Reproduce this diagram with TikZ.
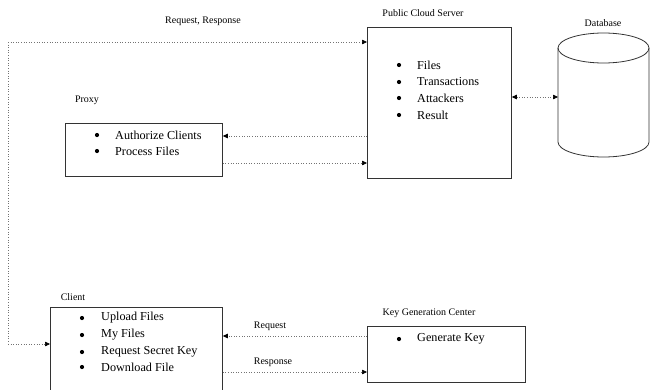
\documentclass[tikz,border=0pt]{standalone}
\usepackage{fontspec}
\setmainfont{Liberation Serif}
\usetikzlibrary{arrows.meta}
\begin{document}
\begin{tikzpicture}[x=1pt,y=-1pt,
  box/.style={draw=black!80,line width=0.8pt,anchor=north west,inner sep=0pt},
  lbl/.style={font=\fontsize{10}{12}\selectfont,inner sep=0pt},
  itm/.style={font=\fontsize{12.2}{14}\selectfont,inner sep=0pt,anchor=west},
  bul/.style={circle,fill=black,inner sep=0pt,minimum size=4.2pt},
  conn/.style={draw=black!55,dotted,line width=0.6pt},
  tip/.style={-{Triangle[length=5pt,width=4.5pt,fill=black,color=black]}},
  tips/.style={{Triangle[length=5pt,width=4.5pt,fill=black,color=black]}-{Triangle[length=5pt,width=4.5pt,fill=black,color=black]}}]
\useasboundingbox (0,0) rectangle (650,389);
\begin{scope}
\clip (0,0) rectangle (650,389);
% boxes
\node[box,minimum width=144pt,minimum height=151pt] (srv) at (367,27) {};
\node[box,minimum width=157pt,minimum height=53pt] (proxy) at (65,123) {};
\node[box,minimum width=172pt,minimum height=100pt] (client) at (50,307) {};
\node[box,minimum width=158pt,minimum height=56pt] (kgc) at (367,326) {};
% database
\draw[black!80,line width=0.8pt] (558,48) -- (558,142) arc[start angle=180,end angle=360,x radius=45.5pt,y radius=15pt] -- (649,48);
\draw[black!80,line width=0.8pt] (603.5,48) ellipse[x radius=45.5pt,y radius=15pt];
\coordinate (db) at (558,97);
\end{scope}
% labels
\node[lbl] (lsrv) at (423,13) {Public Cloud Server};
\node[lbl] (ldb) at (603,23) {Database};
\node[lbl] (lproxy) at (87,100) {Proxy};
\node[lbl] (lclient) at (73,297) {Client};
\node[lbl] (lkgc) at (429,313) {Key Generation Center};
\node[lbl] (lrr) at (203,21) {Request, Response};
\node[lbl] (lreq) at (270,326) {Request};
\node[lbl] (lres) at (273,362) {Response};
% server items
\foreach \t/\y [count=\i] in {Files/65,Transactions/82,Attackers/98,Result/115}{
  \node[bul] (sb\i) at (399,\y) {};
  \node[itm] (si\i) at (417,\y) {\t};
}
% proxy items
\foreach \t/\y [count=\i] in {Authorize Clients/135,Process Files/151}{
  \node[bul] (pb\i) at (97,\y) {};
  \node[itm] (pi\i) at (115,\y) {\t};
}
% client items
\foreach \t/\y [count=\i] in {Upload Files/318,My Files/335,Request Secret Key/352,Download File/367}{
  \node[bul] (cb\i) at (82,\y) {};
  \node[itm] (ci\i) at (101,\y) {\t};
}
% kgc item
\node[bul] (kb1) at (399,339) {};
\node[itm] (ki1) at (417,339) {Generate Key};
% connectors
\coordinate (c1) at (8,42);
\coordinate (c2) at (8,344);
\draw[conn] (c1) -- (c2);
\draw[conn,tip] (c1) -- (srv.west |- c1);
\draw[conn,tip] (c2) -- (client.west |- c2);
\draw[conn,tip] (srv.west |- 0,136) -- (proxy.east |- 0,136);
\draw[conn,tip] (proxy.east |- 0,163) -- (srv.west |- 0,163);
\draw[conn,tips] (srv.east |- db) -- (db);
\draw[conn,tip] (kgc.west |- 0,336) -- (client.east |- 0,336);
\draw[conn,tip] (client.east |- 0,372) -- (kgc.west |- 0,372);
\end{tikzpicture}
\end{document}
